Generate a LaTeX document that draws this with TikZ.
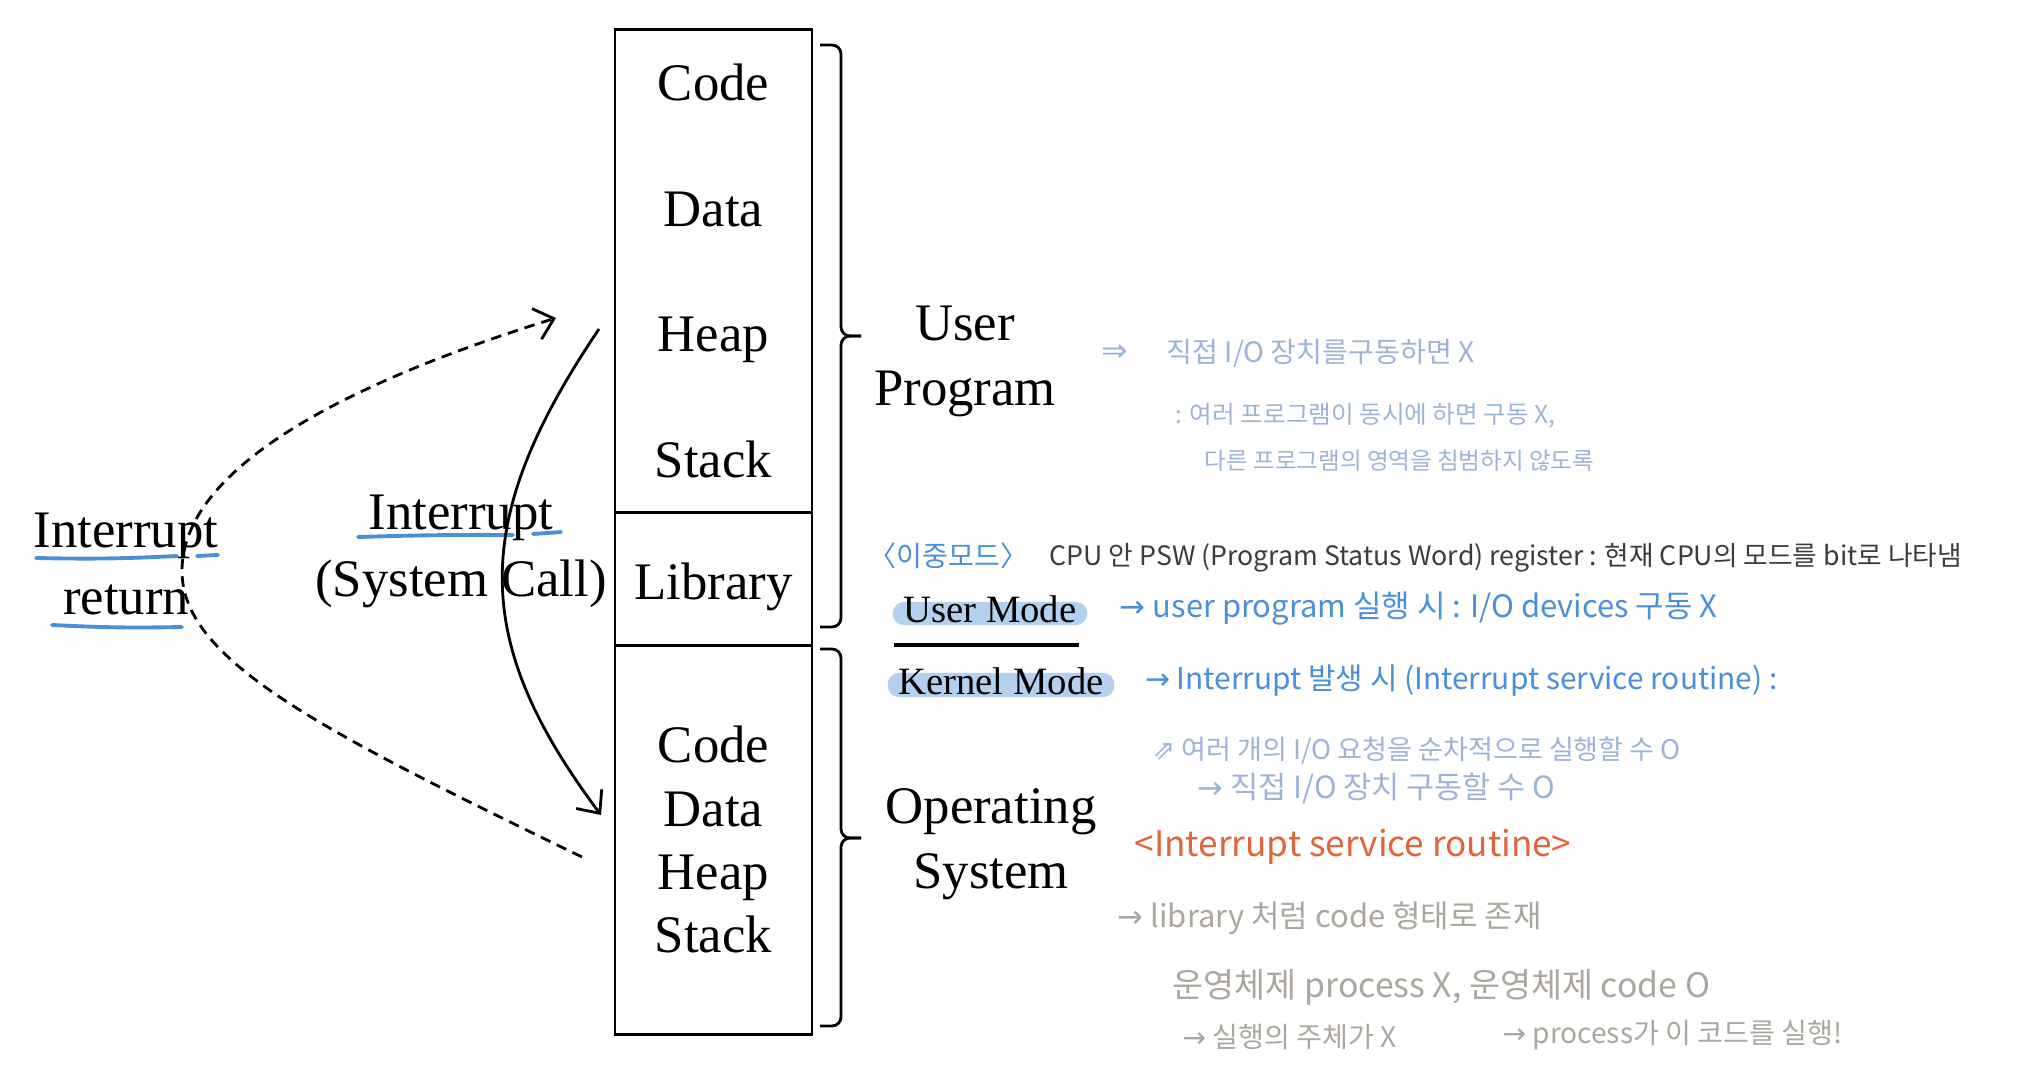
\documentclass[tikz,border=0pt]{standalone}
\usepackage{fontspec}
\setmainfont{Liberation Serif}
\newfontfamily\kor{Noto Sans CJK KR}
\newfontfamily\sym{DejaVu Sans}
\usepackage{xcolor}
\usetikzlibrary{positioning,arrows.meta,backgrounds}

\definecolor{hlblue}{HTML}{B3D1EE}
\definecolor{penblue}{HTML}{4A8FD8}
\definecolor{paleblue}{HTML}{9DB3D6}
\definecolor{pengrey}{HTML}{ABA69E}
\definecolor{pendark}{HTML}{3C3C3C}
\definecolor{penorange}{HTML}{E0653A}

\begin{document}
\begin{tikzpicture}[
    x=0.01cm, y=-0.01cm,
    every node/.style={font=\fontsize{15}{18}\selectfont},
    mem/.style={rectangle, draw, thick, outer sep=0pt, minimum width=1.97cm, align=center},
    lbl/.style={inner sep=0pt},
    bracket/.style={thick, rounded corners=0.09cm},
    arrow/.style={-{Straight Barb[length=1.8mm, width=3.2mm]}, thick},
    ret/.style={dash pattern=on 3pt off 2pt},
    uline/.style={penblue, line width=1.1pt, line cap=round},
    mode/.style={inner sep=0pt, font=\fontsize{11}{13}\selectfont},
    hand/.style={inner sep=0pt, anchor=west, font=\kor\fontsize{#1}{#1}\selectfont},
    hand/.default=8
]
    \useasboundingbox (0,0) rectangle (2036,1085);

    % Memory
    \node[mem, minimum height=4.82cm, font=\fontsize{15}{35.7}\selectfont] (user) at (713.5,271) {Code\\Data\\Heap\\Stack};
    \node[mem, below=0pt of user, minimum height=1.33cm, text height=15pt] (lib) {Library};
    \node[mem, below=0pt of lib, minimum height=3.89cm] (os) {Code\\Data\\Heap\\Stack};

    % Brackets
    \draw[bracket] (820,45) -| (841,336) -- (861,336);
    \draw[bracket] (820,627) -| (841,336) -- (861,336);
    \draw[bracket] (820,649) -| (841,838) -- (861,838);
    \draw[bracket] (820,1026) -| (841,838) -- (861,838);

    \node[align=center, font=\fontsize{15}{18.5}\selectfont] (uprog) at (965,361) {User\\Program};
    \node[align=center, font=\fontsize{15}{18.5}\selectfont] (opsys) at (991,844) {Operating\\System};

    % Labels
    \draw[uline] (36,558) to[bend right=2] (177,556);
    \draw[uline] (197,556) -- (218,555);
    \draw[uline] (52,625) to[bend right=2] (182,627);
    \draw[uline] (358,537) to[bend left=1] (513,535);
    \draw[uline] (533,534) -- (561,532);

    \node[lbl] (retA) at (126,536) {Interrupt};
    \node[lbl] (retB) at (126,600) {return};
    \node[lbl] (sysA) at (461,518) {Interrupt};
    \node[lbl] (sysB) at (461,584) {(System Call)};

    % Arrows
    \coordinate (callstart) at (599,329);
    \coordinate (callend) at (601,815);
    \draw[arrow] (callstart) .. controls (470,520) and (470,640) .. (callend);

    \coordinate (retstart) at (582,857);
    \coordinate (retmid) at (182,571);
    \coordinate (retend) at (556,318);
    \draw[arrow, ret] (retstart) .. controls (320,730) and (182,660) .. (retmid)
        .. controls (182,470) and (340,385) .. (retend);

    % Modes
    \node[mode, anchor=base] (umode) at (990,622) {User Mode};
    \node[mode, anchor=base] (kmode) at (1001,694) {Kernel Mode};
    \begin{scope}[on background layer]
        \fill[hlblue, rounded corners=0.11cm] ([xshift=-0.1cm, yshift=0.2cm]umode.base west) rectangle ([xshift=0.1cm, yshift=-0.03cm]umode.base east);
        \fill[hlblue, rounded corners=0.11cm] ([xshift=-0.1cm, yshift=0.21cm]kmode.base west) rectangle ([xshift=0.1cm, yshift=-0.03cm]kmode.base east);
    \end{scope}
    \draw[line width=1.1pt] ([xshift=-0.09cm, yshift=-0.23cm]umode.base west) -- ([xshift=0.02cm, yshift=-0.23cm]umode.base east);

    % Notes
    \node[hand=9, text=paleblue] (dbl) at (1101,353) {\sym ⇒};
    \node[hand, text=paleblue] (noio) at (1166,353) {직접 I/O 장치를구동하면 X};
    \node[hand=7, text=paleblue] (multi) at (1175,416) {: 여러 프로그램이 동시에 하면 구동 X,};
    \node[hand=6.7, text=paleblue] (protect) at (1204,461) {다른 프로그램의 영역을 침범하지 않도록};

    \node[hand=8, text=penblue] (dual) at (868,556) {〈이중모드〉};
    \node[hand=7.6, text=pendark] (psw) at (1049,558) {CPU 안 PSW (Program Status Word) register : 현재 CPU의 모드를 bit로 나타냄};

    \node[hand=8.8, text=penblue, right=0.42cm of umode] (unote) {{\sym →} user program 실행 시 : I/O devices 구동 X};
    \node[hand=8.5, text=penblue, right=0.4cm of kmode] (knote) {{\sym →} Interrupt 발생 시 (Interrupt service routine) :};

    \node[hand=7.7, text=paleblue] (seq) at (1152,751) {{\sym ⇗} 여러 개의 I/O 요청을 순차적으로 실행할 수 O};
    \node[hand=8.7, text=paleblue] (direct) at (1197,788) {{\sym →} 직접 I/O 장치 구동할 수 O};

    \node[hand=10, text=penorange] (isr) at (1134,847) {<Interrupt service routine>};

    \node[hand=8.8, text=pengrey] (libform) at (1117,918) {{\sym →} library 처럼 code 형태로 존재};
    \node[hand=9.6, text=pengrey] (osproc) at (1172,987) {운영체제 process X, 운영체제 code O};
    \node[hand, text=pengrey] (subj) at (1182,1037) {{\sym →} 실행의 주체가 X};
    \node[hand, text=pengrey] (runs) at (1502,1035) {{\sym →} process가 이 코드를 실행!};
\end{tikzpicture}
\end{document}
